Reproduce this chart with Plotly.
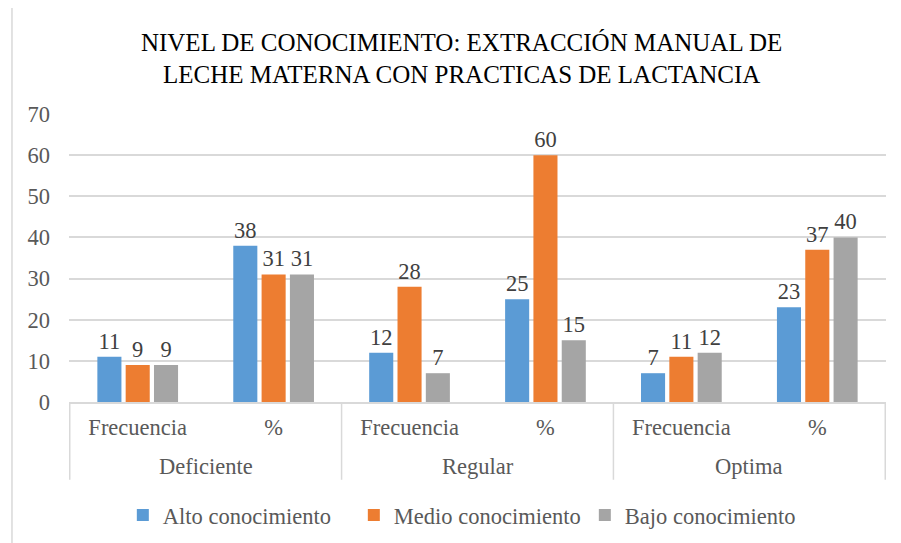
import plotly.graph_objects as go

niveles = ["Deficiente", "Regular", "Optima"]
medidas = ["Frecuencia", "%"]
x_keys = ["Deficiente Frecuencia", "Deficiente %", "Regular Frecuencia", "Regular %", "Optima Frecuencia", "Optima %"]
x_ticktext = ["Frecuencia", "%", "Frecuencia", "%", "Frecuencia", "%"]
alto = [11, 38, 12, 25, 7, 23]
medio = [9, 31, 28, 60, 11, 37]
bajo = [9, 31, 7, 15, 12, 40]
series_names = ["Alto conocimiento", "Medio conocimiento", "Bajo conocimiento"]
colors = ["#5B9BD5", "#ED7D31", "#A5A5A5"]
y_ticks = [0, 10, 20, 30, 40, 50, 60, 70]

FONT = "Times New Roman, Liberation Serif, serif"
GRID = "#D9D9D9"
FS = 22.5

fig = go.Figure()
for name, vals, col in zip(series_names, [alto, medio, bajo], colors):
    fig.add_trace(go.Bar(
        x=x_keys, y=vals, name=name,
        marker=dict(color=col, line=dict(width=0)),
        text=[str(v) for v in vals], textposition="outside",
        textfont=dict(family=FONT, size=FS, color="#404040"),
        cliponaxis=False,
    ))

fig.update_layout(
    width=893, height=535,
    margin=dict(l=61, r=15, t=106, b=141, autoexpand=False),
    paper_bgcolor="white", plot_bgcolor="white",
    barmode="group", bargap=0.375, bargroupgap=0.15,
    title=dict(
        text="NIVEL DE CONOCIMIENTO: EXTRACCIÓN MANUAL DE<br>LECHE MATERNA CON PRACTICAS DE LACTANCIA",
        x=0.508, xanchor="center", y=0.92, yanchor="top",
        font=dict(family=FONT, size=25, color="#000000"),
    ),
    font=dict(family=FONT, size=FS, color="#595959"),
    legend=dict(
        orientation="h", x=0.49, xanchor="center", y=-0.319, yanchor="top",
        font=dict(family=FONT, size=FS, color="#595959"),
        itemwidth=30, traceorder="normal", entrywidth=186,
    ),
    showlegend=True,
)
fig.update_yaxes(
    range=[0, 70], tickvals=y_ticks, showgrid=True, gridcolor=GRID, gridwidth=1.5,
    zeroline=False, showline=False, ticklabelstandoff=18,
    tickfont=dict(family=FONT, size=FS, color="#595959"),
)
fig.update_xaxes(
    type="category", categoryorder="array", categoryarray=x_keys,
    tickvals=x_keys, ticktext=x_ticktext,
    showline=True, linecolor=GRID, linewidth=1.5,
    tickfont=dict(family=FONT, size=FS, color="#595959"),
    ticks="", ticklabelstandoff=4,
)
# outer group labels and dividers
for i, lvl in enumerate(niveles):
    fig.add_annotation(x=2 * i + 0.5, xref="x", y=-0.225, yref="paper", text=lvl,
                       showarrow=False, yanchor="middle",
                       font=dict(family=FONT, size=FS, color="#595959"))
for b in [-0.5, 1.5, 3.5, 5.5]:
    fig.add_shape(type="line", xref="x", yref="paper", x0=b, x1=b, y0=0, y1=-0.27,
                  line=dict(color=GRID, width=1.5))
fig.add_shape(type="line", xref="paper", yref="paper", x0=-0.0698, x1=-0.0698, y0=-0.6, y1=1.5,
              line=dict(color=GRID, width=1.5))

fig.write_html("out.html")
